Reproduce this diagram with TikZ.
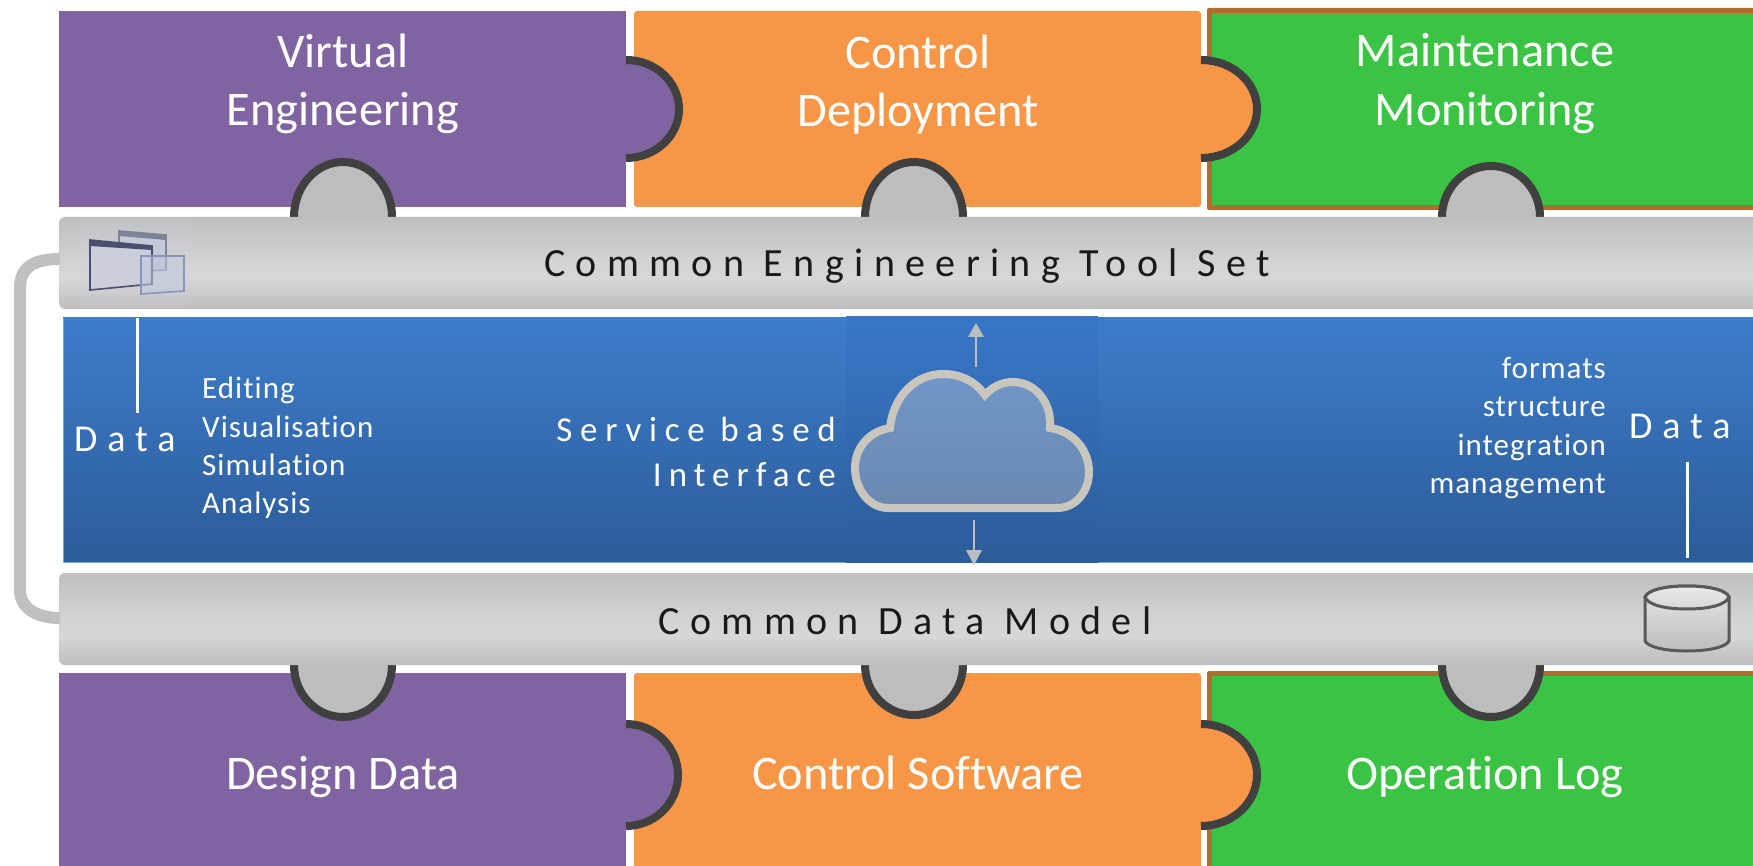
\documentclass[tikz,border=0pt]{standalone}
\usepackage{fontspec}
\usetikzlibrary{calc}
\setmainfont{Carlito}[Ligatures=NoCommon]
\newfontfamily\spaced{Carlito}[LetterSpace=26,Ligatures=NoCommon]
\newfontfamily\spacedb{Carlito}[LetterSpace=22,Ligatures=NoCommon]
\newfontfamily\spacedc{Carlito}[LetterSpace=20,Ligatures=NoCommon]
\newfontfamily\smalltrack{Carlito}[LetterSpace=3.3,Ligatures=NoCommon]
\definecolor{purpleblk}{HTML}{8064A2}
\definecolor{orangeblk}{HTML}{F79646}
\definecolor{greenblk}{HTML}{3BC444}
\definecolor{brownedge}{HTML}{B46B30}
\definecolor{tabedge}{HTML}{404040}
\definecolor{tabgray}{HTML}{BDBDBD}
\definecolor{barA}{HTML}{BDBDBD}
\definecolor{barB}{HTML}{C6C6C6}
\definecolor{barC}{HTML}{D7D7D7}
\definecolor{barD}{HTML}{BFBFBF}
\definecolor{blueTop}{HTML}{3D7CCB}
\definecolor{blueBot}{HTML}{2C5C99}
\definecolor{blueTopD}{HTML}{3877C7}
\definecolor{blueBotD}{HTML}{2C5C99}
\definecolor{cloudedge}{HTML}{C9C6BE}
\definecolor{cloudTop}{HTML}{7096C8}
\definecolor{cloudBot}{HTML}{6A89B0}
\definecolor{arrowgray}{HTML}{BBBEC0}
\pgfdeclareverticalshading{barshade}{100bp}{color(0bp)=(barA); color(25bp)=(barA); color(31bp)=(barB); color(41bp)=(barC); color(50bp)=(barC!85!barD); color(75bp)=(barD); color(100bp)=(barD)}
\tikzset{
  blockp/.style={rectangle,draw=none,fill=purpleblk,inner sep=0pt,outer sep=0pt},
  blocko/.style={rectangle,rounded corners=3,draw=none,fill=orangeblk,inner sep=0pt,outer sep=0pt},
  blockg/.style={rectangle,draw=none,fill=greenblk,inner sep=0pt,outer sep=0pt},
  toolbar/.style={rectangle,rounded corners=6,draw=none,shading=barshade,inner sep=0pt,outer sep=0pt},
  tabline/.style={draw=tabedge,line width=8pt},
  bigtxt/.style={text=white,inner sep=0pt,anchor=base,font=\fontsize{48.3}{50}\selectfont},
  bartxt/.style={text=black!90,inner sep=0pt,anchor=base,font=\spaced\fontsize{40}{42}\selectfont},
  datatxt/.style={text=white,inner sep=0pt,font=\spaced\fontsize{38}{40}\selectfont},
  svctxt/.style={text=white,inner sep=0pt,anchor=east},
  listtxt/.style={text=white,inner sep=0pt,font=\smalltrack\fontsize{31}{33}\selectfont},
  thinarrow/.style={draw=arrowgray,line width=2pt},
  datarule/.style={draw=white,line width=3pt},
  winframe/.style={line width=1.6pt,fill=#1}
}
% vertical tab: centre x, base y, rx, signed ry, fill
\newcommand{\vtab}[5]{%
  \fill[#5] ({#1-#3},{#2}) .. controls ({#1-#3},{#2+0.5523*(#4)}) and ({#1-0.5523*#3},{#2+(#4)}) .. ({#1},{#2+(#4)})
     .. controls ({#1+0.5523*#3},{#2+(#4)}) and ({#1+#3},{#2+0.5523*(#4)}) .. ({#1+#3},{#2}) -- cycle;
  \draw[tabline] ({#1-#3},{#2}) .. controls ({#1-#3},{#2+0.5523*(#4)}) and ({#1-0.5523*#3},{#2+(#4)}) .. ({#1},{#2+(#4)})
     .. controls ({#1+0.5523*#3},{#2+(#4)}) and ({#1+#3},{#2+0.5523*(#4)}) .. ({#1+#3},{#2});}
% horizontal tab: base x, centre y, rx, ry, fill
\newcommand{\htab}[5]{%
  \fill[#5] ({#1},{#2-#4}) .. controls ({#1+0.5523*#3},{#2-#4}) and ({#1+#3},{#2-0.5523*#4}) .. ({#1+#3},{#2})
     .. controls ({#1+#3},{#2+0.5523*#4}) and ({#1+0.5523*#3},{#2+#4}) .. ({#1},{#2+#4}) -- cycle;
  \draw[tabline] ({#1},{#2-#4}) .. controls ({#1+0.5523*#3},{#2-#4}) and ({#1+#3},{#2-0.5523*#4}) .. ({#1+#3},{#2})
     .. controls ({#1+#3},{#2+0.5523*#4}) and ({#1+0.5523*#3},{#2+#4}) .. ({#1},{#2+#4});}
\begin{document}
\begin{tikzpicture}[x=1pt,y=-1pt]
\useasboundingbox (0,0) rectangle (1753,866);
\fill[white] (0,0) rectangle (1753,866);

% top row of blocks
\node[blockp,minimum width=567pt,minimum height=196pt] (vePanel) at (342.5,109) {};
\node[blocko,minimum width=567pt,minimum height=196pt] (cdPanel) at (917.5,109) {};
\fill[brownedge,rounded corners=2] (1207,8) rectangle (1760,210);
\node[blockg,minimum width=541pt,minimum height=192pt] (mmPanel) at (1482.5,109) {};
% bottom row of blocks
\node[blockp,minimum width=567pt,minimum height=193pt] (ddPanel) at (342.5,769.5) {};
\node[blocko,minimum width=567pt,minimum height=200pt] (csPanel) at (917.5,773) {};
\fill[brownedge,rounded corners=2] (1207,671) rectangle (1760,880);
\node[blockg,minimum width=541pt,minimum height=195pt] (olPanel) at (1482.5,773.5) {};

% side tabs
\htab{626}{109}{53}{49}{purpleblk}
\htab{1201}{109}{56}{49}{orangeblk}
\htab{626}{775}{52}{51}{purpleblk}
\htab{1201}{775}{56}{51}{orangeblk}

% tabs towards the bars
\vtab{343}{217}{49}{-55}{tabgray}
\vtab{914}{217}{49}{-55}{tabgray}
\vtab{1491}{217}{49}{-51}{tabgray}
\vtab{343}{665}{49}{52}{tabgray}
\vtab{914}{665}{49}{50}{tabgray}
\vtab{1491}{665}{49}{52}{tabgray}

% blue band
\fill[top color=blueTop,bottom color=blueBot] (63,318) rectangle (1753,562);
\draw[draw=blueTop!70!white,line width=1pt] (63,562) -- (1753,562);
\draw[draw=blueTop!70!white,line width=1pt] (63,318) -- (63,562);
\node[rectangle,inner sep=0pt,minimum width=252pt,minimum height=245pt,top color=blueTopD,bottom color=blueBotD] (cloudBack) at (972,439.5) {};

% bars
\node[toolbar,minimum width=1710pt,minimum height=92pt] (toolBar) at (914,263) {};
\node[toolbar,minimum width=1710pt,minimum height=92pt] (dataBar) at (914,619) {};

% connector between bars
\coordinate (loopTop) at ($(toolBar.west)+(1,-4)$);
\coordinate (loopBot) at ($(dataBar.west)+(1,-1)$);
\draw[draw=barA!95!white,line width=12pt] (loopTop) .. controls (33,259) and (20,268) .. (20,288)
  -- (20,590) .. controls (20,607) and (35,618) .. (loopBot);

% bar labels
\node[bartxt] (toolTxt) at (907,277) {Common Engineering Tool Set};
\node[bartxt] (dataTxt) at (905,634) {Common Data Model};

% block labels
\node[bigtxt] (t1a) at (343,67.5) {Virtual};
\node[bigtxt] (t1b) at (343,125.5) {Engineering};
\node[bigtxt] (t2a) at (918,69) {Control};
\node[bigtxt] (t2b) at (918,126.5) {Deployment};
\node[bigtxt] (t3a) at (1485,67) {Maintenance};
\node[bigtxt] (t3b) at (1485,125.5) {Monitoring};
\node[bigtxt] (b1) at (343,789.5) {Design Data};
\node[bigtxt] (b2) at (918,789.5) {Control Software};
\node[bigtxt] (b3) at (1485,789.5) {Operation Log};

% left column of the band
\node[datatxt,anchor=west] (dataL) at (74,439) {Data};
\coordinate (ruleLTop) at (137,318);
\draw[datarule] (ruleLTop) -- (137,413);
\node[listtxt,anchor=base west] (l1) at (202,398) {Editing};
\node[listtxt,anchor=base west] (l2) at (202,437) {Visualisation};
\node[listtxt,anchor=base west] (l3) at (202,475) {Simulation};
\node[listtxt,anchor=base west] (l4) at (202,513) {Analysis};

% right column of the band
\node[listtxt,anchor=base east] (r1) at (1606,378) {formats};
\node[listtxt,anchor=base east] (r2) at (1606,416) {structure};
\node[listtxt,anchor=base east] (r3) at (1606,455) {integration};
\node[listtxt,anchor=base east] (r4) at (1606,493) {management};
\node[datatxt,anchor=west] (dataR) at (1629,426) {Data};
\coordinate (ruleRBot) at (1687,558);
\draw[datarule] (1687,462) -- (ruleRBot);

% service label
\node[svctxt,font=\spacedb\fontsize{35}{38}\selectfont] (svc1) at (836,429) {Service based};
\node[svctxt,font=\spacedc\fontsize{35}{38}\selectfont] (svc2) at (836,475) {Interface};

% cloud
\draw[draw=cloudedge,line width=8pt,top color=cloudTop,bottom color=cloudBot,line join=miter]
  (888,508) -- (1057,508)
  .. controls (1077,508) and (1089,490) .. (1089,472)
  .. controls (1089,450) and (1073,431) .. (1050,428)
  .. controls (1052,402) and (1035,382) .. (1013,382)
  .. controls (1002,382) and (992,387) .. (985,395)
  .. controls (975,381) and (960,374) .. (943,374)
  .. controls (915,374) and (893,397) .. (890,428)
  .. controls (870,431) and (855,447) .. (855,468)
  .. controls (855,490) and (870,508) .. (888,508) -- cycle;
\coordinate (upFoot) at (976,367);
\coordinate (upTip) at (976,323);
\coordinate (downFoot) at (974,520);
\coordinate (downTip) at (974,565);
\draw[thinarrow] (upFoot) -- (976,336);
\fill[arrowgray] (upTip) -- (968,337) -- (984,337) -- cycle;
\draw[thinarrow] (downFoot) -- (974,551);
\fill[arrowgray] (downTip) -- (966,550) -- (982,550) -- cycle;

% window icon
\definecolor{hazeC}{HTML}{CDD3E6}
\definecolor{winA}{HTML}{C4CAD8}
\definecolor{winB}{HTML}{CBCFDC}
\definecolor{winC}{HTML}{BFC8DE}
\definecolor{winDark}{HTML}{4A4F6E}
\definecolor{winMid}{HTML}{7E8498}
\definecolor{winBlue}{HTML}{8A93B8}
\fill[hazeC,opacity=.15] (80,223) rectangle (190,308);
\draw[winframe=winA,draw=winMid] (119,231) -- (166,235) -- (166,270) -- (119,272) -- cycle;
\fill[winMid] (119,231) -- (166,235) -- (166,240) -- (119,236) -- cycle;
\draw[winframe=winB,draw=winDark] (90,240) -- (152,246) -- (152,284) -- (90,290) -- cycle;
\fill[winDark] (90,240) -- (152,246) -- (152,250) -- (90,246) -- cycle;
\draw[winframe=winC,draw=winBlue,fill opacity=.55] (141,256) -- (184,256) -- (184,291) -- (141,294) -- cycle;

% database icon
\draw[draw=black!65,line width=3pt,top color=barC!60!white,bottom color=barA]
  (1645,597) -- (1645,641) .. controls (1648,647) and (1665,651) .. (1687,651)
  .. controls (1709,651) and (1726,647) .. (1729,641) -- (1729,597)
  .. controls (1726,590) and (1709,586) .. (1687,586) .. controls (1665,586) and (1648,590) .. (1645,597) -- cycle;
\draw[draw=black!65,line width=3pt,top color=barC!50!white,bottom color=barC]
  (1645,597) .. controls (1648,590) and (1665,586) .. (1687,586) .. controls (1709,586) and (1726,590) .. (1729,597)
  .. controls (1726,605) and (1709,609) .. (1687,609) .. controls (1665,609) and (1648,605) .. (1645,597) -- cycle;
\end{tikzpicture}
\end{document}
